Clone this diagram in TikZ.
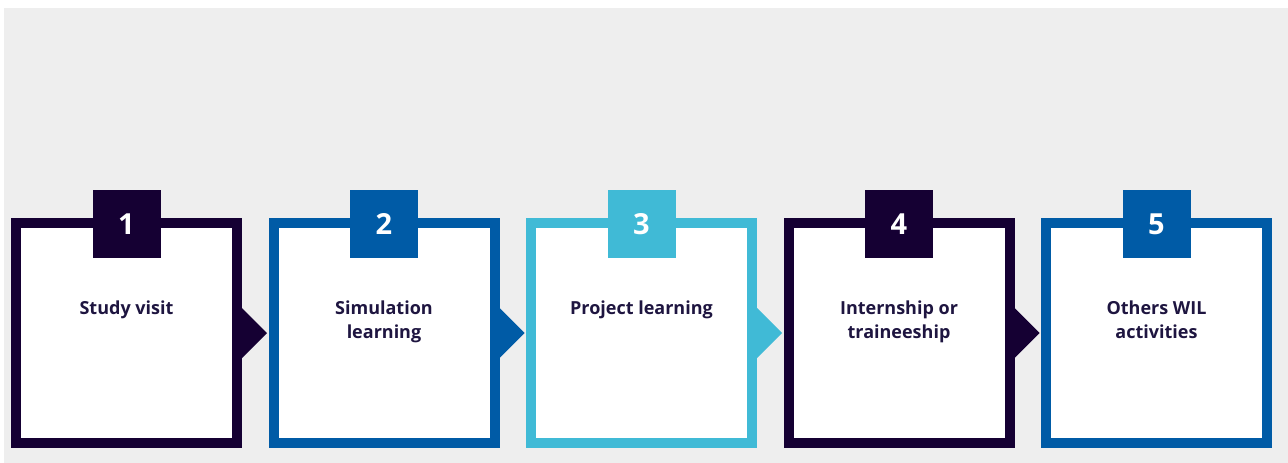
\documentclass[tikz,border=0pt]{standalone}
\usepackage{fontspec}
\setmainfont{Open Sans}
\usetikzlibrary{calc}
\definecolor{navy}{HTML}{150033}
\definecolor{blueb}{HTML}{005BA6}
\definecolor{cyanb}{HTML}{40BAD6}
\definecolor{txt}{HTML}{1E1540}
\definecolor{bg}{HTML}{EEEEEE}
\tikzset{
  card/.style={draw=#1, fill=white, line width=10pt, minimum width=221pt, minimum height=220pt, inner sep=0pt, outer sep=0pt},
  tab/.style={fill=#1, minimum size=68pt, inner sep=0pt, outer sep=0pt, text=white, font=\fontsize{29}{29}\selectfont\bfseries},
  lbl/.style={anchor=north, inner sep=0pt, align=center, text=txt, font=\fontsize{18}{24}\selectfont\bfseries},
}
\newcommand{\fl}{\rule{0pt}{18pt}}
\begin{document}
\begin{tikzpicture}[x=1pt,y=-1pt]
\useasboundingbox (0,0) rectangle (1288,463);
\fill[bg] (4,8) rectangle (1288,463);
\foreach \i/\c/\t/\n in {1/navy/{Study visit}/1, 2/blueb/{Simulation\\learning}/2, 3/cyanb/{Project learning}/3, 4/navy/{Internship or\\traineeship}/4, 5/blueb/{Others WIL\\activities}/5}{
  \pgfmathsetmacro{\xc}{126.5+257.5*(\i-1)}
  \node[card=\c] (b\i) at (\xc,333) {};
  \node[tab=\c] (t\i) at (\xc,224) {\n};
  \node[lbl] (l\i) at (\xc,296) {\fl\t};
}
\foreach \i/\c in {1/navy,2/blueb,3/cyanb,4/navy}{
  \fill[\c] ($(b\i.east)+(0,-25)$) -- ($(b\i.east)+(5,-25)$) -- ($(b\i.east)+(30,0)$) -- ($(b\i.east)+(5,25)$) -- ($(b\i.east)+(0,25)$) -- cycle;
}
\end{tikzpicture}
\end{document}
